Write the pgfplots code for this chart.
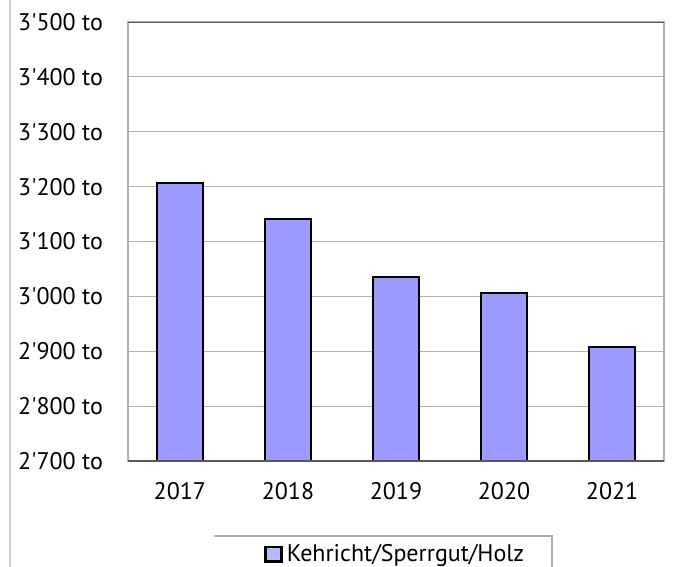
\documentclass[border=0pt]{standalone}
\usepackage{pgfplots}
\pgfplotsset{compat=1.18}
\usepackage{fontspec}
\setmainfont{PT Sans}
\definecolor{barblue}{RGB}{154,154,255}
\begin{document}
\begin{tikzpicture}[font=\fontsize{12}{14}\selectfont]
\path[use as bounding box] (0,0) rectangle (338pt,-283.5pt);
\draw[gray!35, line width=1.2pt] (5pt,0) -- (5pt,-283.5pt);
\begin{axis}[
  at={(64pt,-230.5pt)}, anchor=south west,
  scale only axis, width=268pt, height=219.5pt,
  xmin=-0.48, xmax=4.48, ymin=2700, ymax=3500,
  ytick={2700,2800,2900,3000,3100,3200,3300,3400,3500},
  yticklabels={2\textquotesingle700 to,2\textquotesingle800 to,2\textquotesingle900 to,3\textquotesingle000 to,3\textquotesingle100 to,3\textquotesingle200 to,3\textquotesingle300 to,3\textquotesingle400 to,3\textquotesingle500 to},
  xtick={0,1,2,3,4},
  xticklabels={2017,2018,2019,2020,2021},
  major tick length=0pt,
  tick label style={font=\fontsize{12}{14}\selectfont, text=black},
  yticklabel style={xshift=-9pt},
  xticklabel style={yshift=-7pt},
  ymajorgrids, grid style={gray!60, line width=0.5pt},
  axis line style={gray!60, line width=1pt},
  legend style={draw=none, fill=none, inner sep=0pt, at={(axis description cs:0.2537,-0.212)}, anchor=west, font=\fontsize{12}{14}\selectfont},
  legend image code/.code={\draw[fill=barblue!70, draw=black, line width=1.2pt] (0pt,-3.8pt) rectangle (8pt,3.6pt);},
]
\addplot[ybar, bar width=23pt, fill=barblue, draw=black, line width=1pt] coordinates {(0,3207) (1,3141) (2,3035) (3,3006) (4,2907)};
\legend{Kehricht/Sperrgut/Holz}
\draw[black!65, line width=1pt] (rel axis cs:0,0) -- (rel axis cs:1,0);
\draw[black!65, line width=1pt] (rel axis cs:0,1) -- (rel axis cs:1,1);
\end{axis}
\draw[gray!65, line width=1.2pt] (107pt,-268pt) -- (276pt,-268pt) -- (276pt,-284pt);
\end{tikzpicture}
\end{document}
